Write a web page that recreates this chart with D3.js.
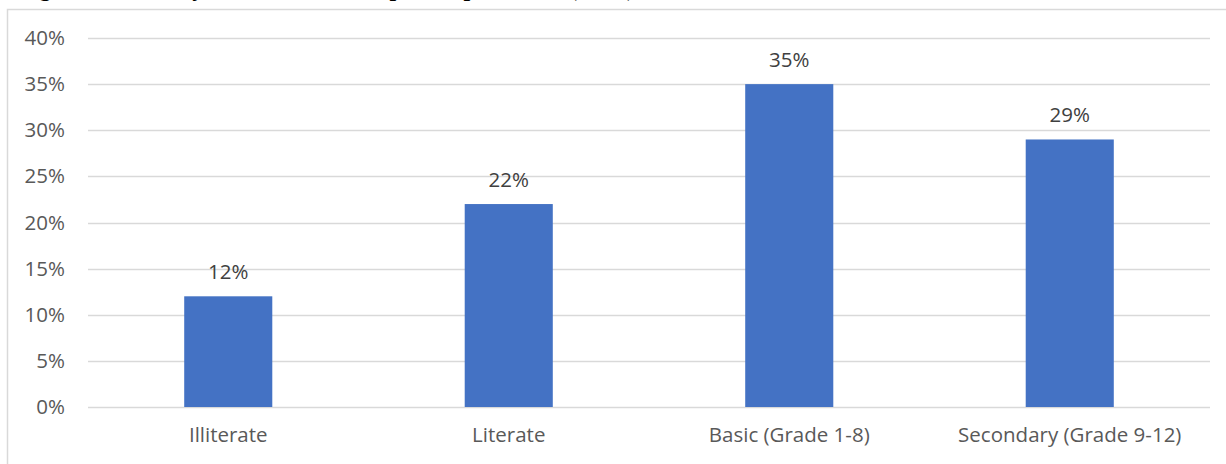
<!DOCTYPE html>
<html>
<head>
<meta charset="utf-8">
<script src="https://cdn.jsdelivr.net/npm/d3@7"></script>
<style>
  body { margin: 0; background: #fff; overflow: hidden; }
  svg { display: block; }
</style>
</head>
<body>
<div id="chart"></div>
<script>
// chart data
const categories = ["Illiterate", "Literate", "Basic (Grade 1-8)", "Secondary (Grade 9-12)"];
const shares = [0.12, 0.22, 0.35, 0.29];
const yTicks = [0, 0.05, 0.10, 0.15, 0.20, 0.25, 0.30, 0.35, 0.40];
const titleText = "Figure 3: Literacy Status of the Sample Respondents, (in %)";

const size = {width: 1226, height: 464};
const margin = {top: 38, right: 16, bottom: 57, left: 88};
const width = size.width - margin.left - margin.right;
const height = size.height - margin.top - margin.bottom;
const labelFont = "Open Sans, sans-serif";
const labelSize = 20.5;

const svg = d3.select("#chart").append("svg")
    .attr("width", size.width)
    .attr("height", size.height);

// title, cropped by the top edge of the picture (only descenders show)
svg.append("text")
    .attr("x", 18)
    .attr("y", -4)
    .attr("font-family", "Liberation Serif, serif")
    .attr("font-weight", "bold")
    .attr("font-size", 24)
    .attr("fill", "#000")
    .text(titleText);

// chart area frame
svg.append("rect")
    .attr("x", 7.5)
    .attr("y", 9.5)
    .attr("width", size.width + 10)
    .attr("height", size.height + 10)
    .attr("fill", "none")
    .attr("stroke", "#d9d9d9")
    .attr("stroke-width", 1.5);

const g = svg.append("g")
    .attr("transform", "translate(" + margin.left + "," + margin.top + ")");

const x = d3.scaleBand()
    .domain(categories)
    .range([0, width])
    .paddingInner(0.686)
    .paddingOuter(0.343);

const y = d3.scaleLinear()
    .domain([0, 0.40])
    .range([height, 0]);

const fmt = d3.format(".0%");

// gridlines
g.selectAll(".grid")
    .data(yTicks)
    .join("line")
    .attr("class", "grid")
    .attr("x1", 0)
    .attr("x2", width)
    .attr("y1", d => Math.round(y(d)) + 0.5)
    .attr("y2", d => Math.round(y(d)) + 0.5)
    .attr("stroke", "#d9d9d9")
    .attr("stroke-width", 1.3);

// y axis labels
const yAxis = g.append("g")
    .call(d3.axisLeft(y).tickValues(yTicks).tickFormat(fmt).tickSize(0).tickPadding(23));
yAxis.select(".domain").remove();
yAxis.selectAll("text")
    .attr("font-family", labelFont)
    .attr("font-size", labelSize)
    .attr("fill", "#595959");

// bars
g.selectAll(".bar")
    .data(shares)
    .join("rect")
    .attr("class", "bar")
    .attr("x", (d, i) => x(categories[i]))
    .attr("y", d => y(d))
    .attr("width", x.bandwidth())
    .attr("height", d => height - y(d))
    .attr("fill", "#4472c4");

// value labels
g.selectAll(".val")
    .data(shares)
    .join("text")
    .attr("class", "val")
    .attr("x", (d, i) => x(categories[i]) + x.bandwidth() / 2)
    .attr("y", d => y(d) - 17)
    .attr("text-anchor", "middle")
    .attr("font-family", labelFont)
    .attr("font-size", labelSize)
    .attr("fill", "#404040")
    .text(d => fmt(d));

// x axis labels
const xAxis = g.append("g")
    .attr("transform", "translate(0," + height + ")")
    .call(d3.axisBottom(x).tickSize(0).tickPadding(20));
xAxis.select(".domain").remove();
xAxis.selectAll("text")
    .attr("font-family", labelFont)
    .attr("font-size", labelSize)
    .attr("fill", "#595959");
</script>
</body>
</html>
